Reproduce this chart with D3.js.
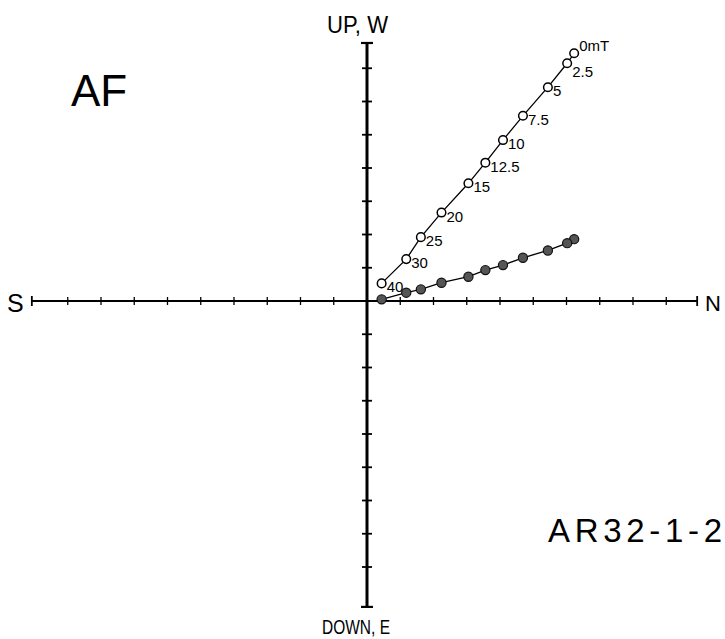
<!DOCTYPE html>
<html>
<head>
<meta charset="utf-8">
<script src="https://cdn.jsdelivr.net/npm/d3@7"></script>
<style>
  body { margin: 0; background: #fff; }
  svg { display: block; font-family: "Liberation Sans", Arial, sans-serif; }
</style>
</head>
<body>
<div id="chart"></div>
<script>
// AF demagnetization steps (mT)
const steps = ["0mT", "2.5", "5", "7.5", "10", "12.5", "15", "20", "25", "30", "40"];
// N component (shared by both projections)
const north = [6.23, 6.02, 5.44, 4.69, 4.09, 3.56, 3.05, 2.24, 1.62, 1.18, 0.44];
// vertical projection (open circles): Up
const up = [7.45, 7.15, 6.43, 5.57, 4.84, 4.16, 3.54, 2.66, 1.92, 1.26, 0.53];
// horizontal projection (filled circles): W
const west = [1.86, 1.74, 1.52, 1.30, 1.08, 0.93, 0.73, 0.55, 0.35, 0.25, 0.05];

const xTicks = d3.range(-9, 10).filter((d) => d !== 0);
const yTicks = d3.range(-8, 8).filter((d) => d !== 0);

const width = 725, height = 639;

// one unit = 33.25px, origin at (367, 301)
const x = d3.scaleLinear().domain([0, 1]).range([367, 400.25]);
const y = d3.scaleLinear().domain([0, 1]).range([301, 267.75]);
const xLeft = -10.08, xRight = 9.93;
const yTop = 7.76, yBottom = -9.2;

const svg = d3
  .select("#chart")
  .append("svg")
  .attr("width", width)
  .attr("height", height);

// axes
svg.append("line")
  .attr("x1", x(xLeft)).attr("x2", x(xRight))
  .attr("y1", y(0)).attr("y2", y(0))
  .attr("stroke", "#000").attr("stroke-width", 2);
svg.append("line")
  .attr("x1", x(0)).attr("x2", x(0))
  .attr("y1", y(yTop)).attr("y2", y(yBottom))
  .attr("stroke", "#000").attr("stroke-width", 3);

// ticks on horizontal axis
svg.append("g")
  .selectAll("line")
  .data(xTicks)
  .enter()
  .append("line")
  .attr("x1", (d) => x(d)).attr("x2", (d) => x(d))
  .attr("y1", y(0) - 4).attr("y2", y(0) + 4)
  .attr("stroke", "#000").attr("stroke-width", 1.3);

// ticks on vertical axis
svg.append("g")
  .selectAll("line")
  .data(yTicks)
  .enter()
  .append("line")
  .attr("x1", x(0) - 5).attr("x2", x(0) + 5)
  .attr("y1", (d) => y(d)).attr("y2", (d) => y(d))
  .attr("stroke", "#000").attr("stroke-width", 1.8);

// end caps
[xLeft, xRight].forEach((d) => {
  svg.append("line")
    .attr("x1", x(d)).attr("x2", x(d))
    .attr("y1", y(0) - 5).attr("y2", y(0) + 5)
    .attr("stroke", "#000").attr("stroke-width", 1.8);
});
[yTop, yBottom].forEach((d) => {
  svg.append("line")
    .attr("x1", x(0) - 6).attr("x2", x(0) + 6)
    .attr("y1", y(d)).attr("y2", y(d))
    .attr("stroke", "#000").attr("stroke-width", 2.2);
});

const line = d3.line().x((d) => x(d[0])).y((d) => y(d[1]));
const vert = north.map((n, i) => [n, up[i]]);
const horiz = north.map((n, i) => [n, west[i]]);

svg.append("path")
  .attr("d", line(horiz))
  .attr("fill", "none").attr("stroke", "#000").attr("stroke-width", 1.3);
svg.append("path")
  .attr("d", line(vert))
  .attr("fill", "none").attr("stroke", "#000").attr("stroke-width", 1.3);

svg.append("g")
  .selectAll("circle")
  .data(horiz)
  .enter()
  .append("circle")
  .attr("cx", (d) => x(d[0])).attr("cy", (d) => y(d[1]))
  .attr("r", 4.6)
  .attr("fill", "#555").attr("stroke", "#111").attr("stroke-width", 1.2);

svg.append("g")
  .selectAll("circle")
  .data(vert)
  .enter()
  .append("circle")
  .attr("cx", (d) => x(d[0])).attr("cy", (d) => y(d[1]))
  .attr("r", 4.3)
  .attr("fill", "#fff").attr("stroke", "#000").attr("stroke-width", 1.5);

// step labels
svg.append("g")
  .selectAll("text")
  .data(vert)
  .enter()
  .append("text")
  .attr("x", (d) => x(d[0]) + 5)
  .attr("y", (d, i) => y(d[1]) + (i === 0 ? -2 : i === 1 ? 14 : 9))
  .attr("font-size", 15)
  .text((d, i) => steps[i]);

// axis names
svg.append("text").attr("x", 327).attr("y", 33)
  .attr("font-size", 23).attr("textLength", 61).attr("lengthAdjust", "spacingAndGlyphs")
  .text("UP, W");
svg.append("text").attr("x", 322).attr("y", 634)
  .attr("font-size", 21).attr("textLength", 68).attr("lengthAdjust", "spacingAndGlyphs")
  .text("DOWN, E");
svg.append("text").attr("x", 7).attr("y", 312)
  .attr("font-size", 25).text("S");
svg.append("text").attr("x", 705).attr("y", 311)
  .attr("font-size", 22).text("N");

// titles
svg.append("text").attr("x", 71).attr("y", 106)
  .attr("font-size", 44).text("AF");
svg.append("text").attr("x", 548).attr("y", 542)
  .attr("font-size", 33).attr("textLength", 174).attr("lengthAdjust", "spacing")
  .text("AR32-1-2");
</script>
</body>
</html>
